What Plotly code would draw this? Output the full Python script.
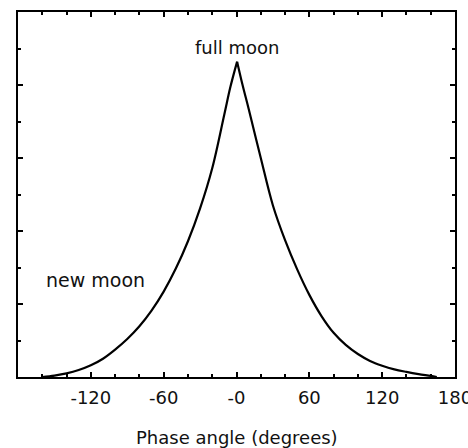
import plotly.graph_objects as go

# Phase angle (degrees) and relative brightness (arbitrary units)
phase_left = [-160, -150, -140, -130, -120, -110, -100, -90, -80, -70, -60, -50,
              -40, -30, -20, -10, -5, 0.5]
bright_left = [0.0, 0.04, 0.10, 0.19, 0.32, 0.50, 0.75, 1.04, 1.39, 1.82, 2.34, 2.97,
               3.72, 4.62, 5.72, 7.20, 7.95, 8.64]
phase_right = [0.5, 5, 10, 20, 30, 40, 50, 60, 70, 80, 90, 100, 110, 120, 130, 140,
               150, 160, 165]
bright_right = [8.64, 8.00, 7.35, 6.00, 4.70, 3.75, 2.95, 2.25, 1.67, 1.21, 0.88, 0.63,
                0.44, 0.31, 0.21, 0.14, 0.08, 0.03, 0.0]

x_tickvals = [-120, -60, 0, 60, 120, 180]
x_ticktext = ["-120", "-60", "-0", "60", "120", "180"]

FONT = "DejaVu Sans"

fig = go.Figure()
for xs, ys in [(phase_left, bright_left), (phase_right, bright_right)]:
    fig.add_trace(go.Scatter(x=xs, y=ys, mode="lines",
                             line=dict(color="black", width=2.2, shape="spline",
                                       smoothing=1.0),
                             showlegend=False, hoverinfo="skip"))

fig.update_layout(
    width=468, height=448,
    margin=dict(l=18, r=13, t=12, b=71, autoexpand=False),
    paper_bgcolor="white", plot_bgcolor="white",
    font=dict(family=FONT, size=18, color="#111"),
    xaxis=dict(range=[-180, 180.0001], tickvals=x_tickvals, ticktext=x_ticktext,
               ticks="inside", ticklen=5, tickwidth=2, tickcolor="black",
               showline=True, linecolor="black", linewidth=2, mirror="ticks",
               showgrid=False, zeroline=False, ticklabeloverflow="allow",
               automargin=False, ticklabelstandoff=3,
               minor=dict(dtick=20, tick0=0, ticks="inside", ticklen=3,
                          tickwidth=2, tickcolor="black", showgrid=False),
               tickfont=dict(family=FONT, size=18, color="#111")),
    yaxis=dict(range=[0, 10], dtick=2, tick0=0, showticklabels=False,
               ticks="inside", ticklen=5, tickwidth=2, tickcolor="black",
               showline=True, linecolor="black", linewidth=2, mirror="ticks",
               showgrid=False, zeroline=False, automargin=False,
               minor=dict(dtick=1, tick0=0, ticks="inside", ticklen=3,
                          tickwidth=2, tickcolor="black", showgrid=False)),
    annotations=[
        dict(text="full moon", x=0, y=9.04, xref="x", yref="y",
             showarrow=False, xanchor="center", yanchor="middle",
             font=dict(family=FONT, size=18, color="#111")),
        dict(text="new moon", x=-116.5, y=2.66, xref="x", yref="y",
             showarrow=False, xanchor="center", yanchor="middle",
             font=dict(family=FONT, size=19, color="#111")),
        dict(text="Phase angle (degrees)", x=0.5, y=-0.167, xref="paper", yref="paper",
             showarrow=False, xanchor="center", yanchor="middle",
             font=dict(family=FONT, size=18, color="#111")),
    ],
)

fig.write_html("out.html")
